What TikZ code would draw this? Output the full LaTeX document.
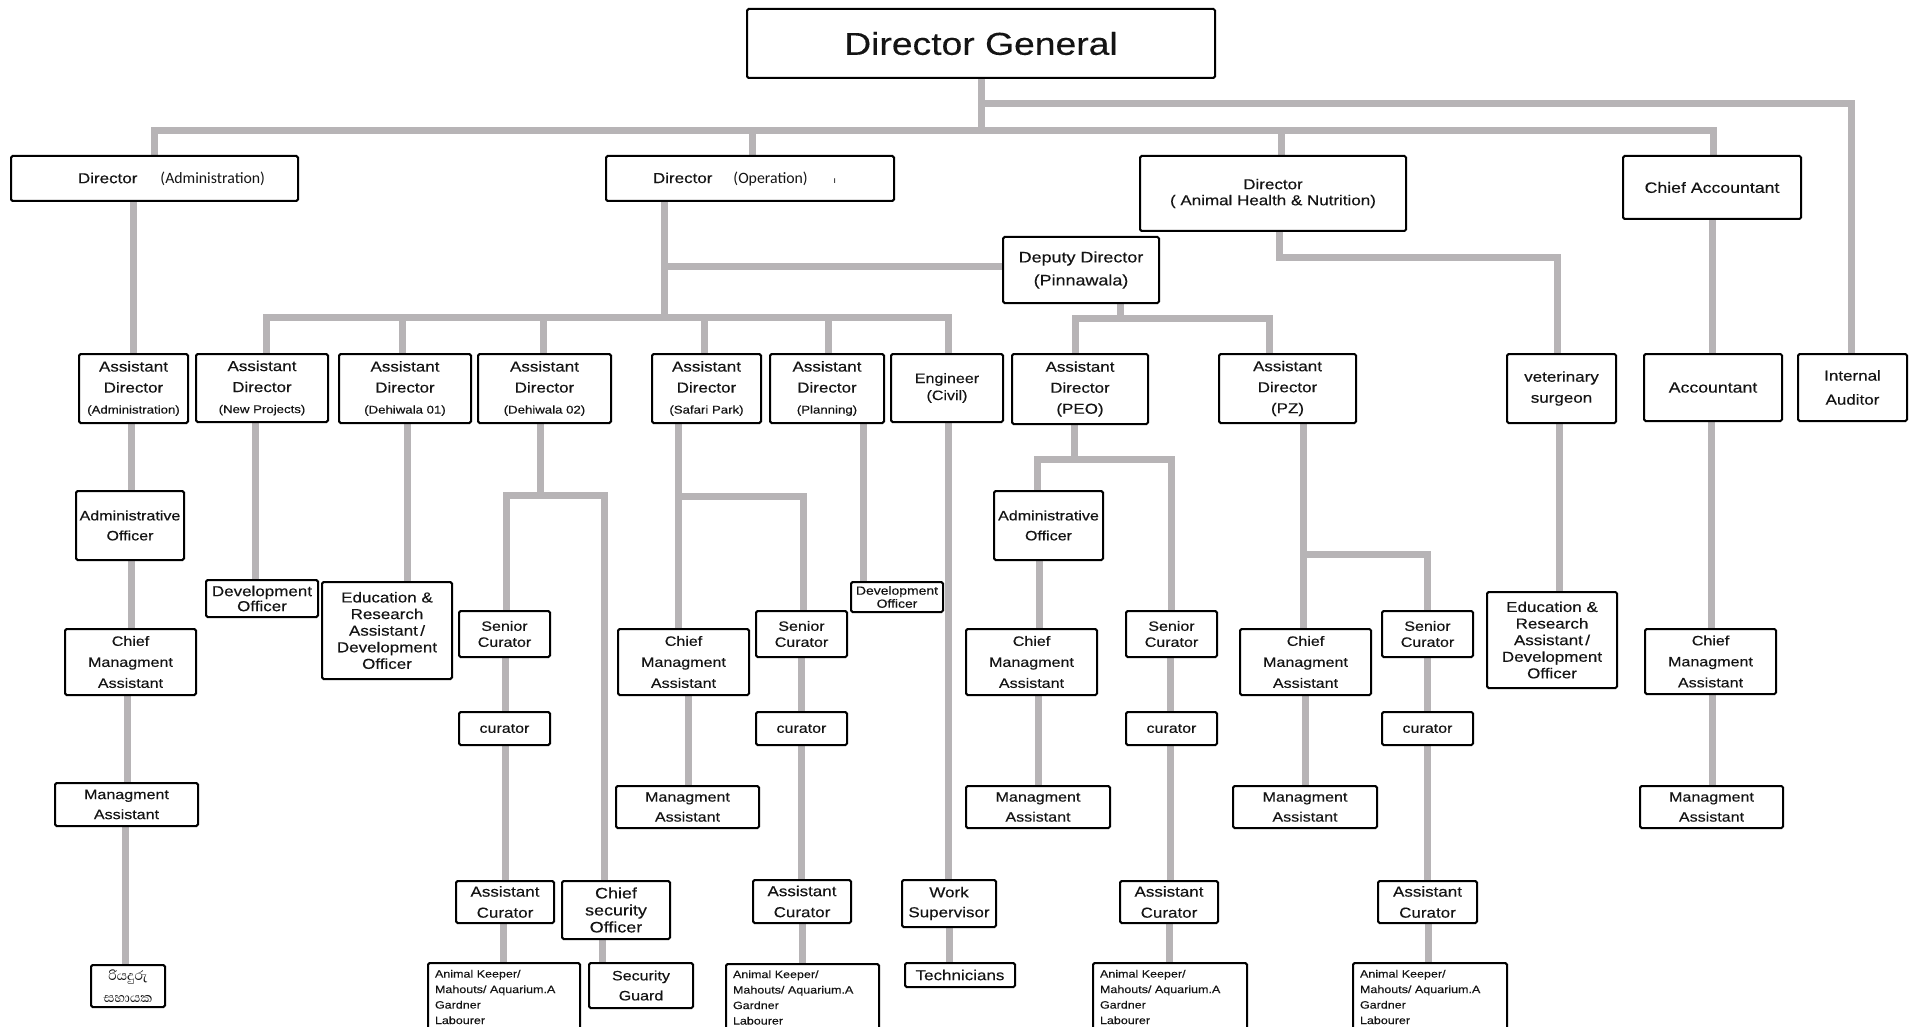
\documentclass[tikz,border=0pt]{standalone}
\usepackage{fontspec}
\setmainfont{Liberation Sans}[FakeStretch=1.18,FakeBold=0.3]
\newfontfamily\calfont{Carlito}
\newfontfamily\sinfont[Script=Sinhala]{Abhaya Libre}
\usetikzlibrary{backgrounds}
\definecolor{lg}{RGB}{183,180,182}
\definecolor{tx}{RGB}{20,20,20}
\newcommand\orgbox[7][]{%
  \pgfmathsetmacro\bw{(#5-#3)*0.5}%
  \pgfmathsetmacro\bh{(#6-#4)*0.5}%
  \node[box,minimum width=\bw pt,minimum height=\bh pt,#1] (#2) at ({(#3+#5)/2},{(#4+#6)/2}) {#7};}
\newcommand\akbox[4]{%
  \pgfmathsetmacro\bw{(#4-#2)*0.5-7}%
  \pgfmathsetmacro\bh{(1031-#3)*0.5}%
  \node[box,text width=\bw pt,inner xsep=3.5pt,minimum height=\bh pt,align=left,
        font=\fontsize{5.3pt}{7.75pt}\selectfont] (#1) at ({(#2+#4)/2},{(#3+1031)/2})
   {Animal Keeper/\\Mahouts/ Aquarium.A\\Gardner\\Labourer};}
\newcommand\sm[1]{{\fontsize{5.6pt}{10.5pt}\selectfont #1}}
\tikzset{
  box/.style={draw=black,line width=1pt,fill=white,rounded corners=0.8pt,inner sep=0pt,
    align=center,text=tx,font=\fontsize{7.2pt}{10.5pt}\selectfont},
  ls/.style={font=\fontsize{7.2pt}{#1pt}\selectfont},
  mg/.style={font=\fontsize{6.8pt}{#1pt}\selectfont},
  conn/.style={draw=lg,line width=3.5pt,line join=miter}
}
\begin{document}
\begin{tikzpicture}[x=0.5pt,y=-0.5pt]
\useasboundingbox (0,0) rectangle (1916,1027);
\clip (0,0) rectangle (1916,1027);
% ---------- top ----------
\orgbox[font=\fontsize{15.8pt}{18pt}\selectfont]{dg}{747}{9}{1215}{78}{Director General}
\orgbox{dadm}{11}{156}{298}{201}{\makebox[143.5pt][l]{\hspace*{33.5pt}Director\hspace{11.5pt}{\calfont\fontsize{7.9pt}{9pt}\selectfont (Administration)}}}
\orgbox{dop}{606}{156}{894}{201}{\makebox[144pt][l]{\hspace*{23.5pt}Director\hspace{10.5pt}{\calfont\fontsize{7.9pt}{9pt}\selectfont (Operation)\hspace{13pt}{\fontsize{5pt}{6pt}\selectfont ı}}}}
\orgbox[ls=8]{dahn}{1140}{156}{1406}{231}{Director\\( Animal Health \& Nutrition)}
\orgbox[font=\fontsize{7.5pt}{9pt}\selectfont]{dca}{1623}{156}{1801}{219}{Chief Accountant}
\orgbox[font=\fontsize{7.6pt}{11.5pt}\selectfont]{ddp}{1003}{237}{1159}{303}{Deputy Director\\(Pinnawala)}
% ---------- assistant director row ----------
\orgbox{adA}{79}{354}{188}{423}{Assistant\\Director\\\sm{(Administration)}}
\orgbox{adNP}{196}{354}{328}{422}{Assistant\\Director\\\sm{(New Projects)}}
\orgbox{adD1}{339}{354}{471}{423}{Assistant\\Director\\\sm{(Dehiwala 01)}}
\orgbox{adD2}{478}{354}{611}{423}{Assistant\\Director\\\sm{(Dehiwala 02)}}
\orgbox{adSP}{652}{354}{761}{423}{Assistant\\Director\\\sm{(Safari Park)}}
\orgbox{adPl}{770}{354}{884}{423}{Assistant\\Director\\\sm{(Planning)}}
\orgbox[mg=8.5]{eng}{891}{354}{1003}{422}{Engineer\\(Civil)}
\orgbox{adPEO}{1012}{354}{1148}{424}{Assistant\\Director\\(PEO)}
\orgbox{adPZ}{1219}{354}{1356}{423}{Assistant\\Director\\(PZ)}
\orgbox{vet}{1507}{354}{1616}{423}{veterinary\\surgeon}
\orgbox[font=\fontsize{7.5pt}{9pt}\selectfont]{acc}{1644}{354}{1782}{421}{Accountant}
\orgbox[ls=12]{ia}{1798}{354}{1907}{421}{Internal\\Auditor}
% ---------- administration column ----------
\orgbox[mg=10]{aoA}{76}{491}{184}{560}{Administrative\\Officer}
\orgbox[mg=10.5]{cmaA}{65}{629}{196}{695}{Chief\\Managment\\Assistant}
\orgbox[mg=10]{maA}{55}{783}{198}{826}{Managment\\Assistant}
\orgbox[font=\sinfont\fontsize{8.5pt}{11pt}\selectfont]{sinh}{91}{965}{165}{1007}{රියදුරු\\සහායක}
% ---------- new projects / dehiwala 01 ----------
\orgbox[ls=7.5]{doNP}{206}{580}{318}{617}{Development\\Officer}
\orgbox[ls=8.3]{edu1}{322}{582}{452}{679}{Education \&\\Research\\Assistant\,/\\Development\\Officer}
% ---------- dehiwala 02 ----------
\orgbox[mg=8]{scD2}{459}{611}{550}{657}{Senior\\Curator}
\orgbox[mg=9]{curD2}{459}{712}{550}{745}{curator}
\orgbox[ls=10.5]{acD2}{456}{881}{554}{923}{Assistant\\Curator}
\akbox{akD2}{428}{963}{580}
\orgbox[font=\fontsize{7.6pt}{8.5pt}\selectfont]{cso}{562}{881}{670}{939}{Chief\\security\\Officer}
\orgbox[mg=10]{sg}{589}{963}{693}{1008}{Security\\Guard}
% ---------- safari park ----------
\orgbox[mg=10.5]{cmaSP}{618}{629}{749}{695}{Chief\\Managment\\Assistant}
\orgbox[mg=10]{maSP}{616}{786}{759}{828}{Managment\\Assistant}
\orgbox[mg=8]{scSP}{756}{611}{847}{657}{Senior\\Curator}
\orgbox[mg=9]{curSP}{756}{712}{847}{745}{curator}
\orgbox[ls=10.5]{acSP}{753}{880}{851}{923}{Assistant\\Curator}
\akbox{akSP}{726}{964}{879}
% ---------- planning / engineer ----------
\orgbox[font=\fontsize{5.9pt}{6.5pt}\selectfont]{doPl}{851}{582}{943}{612}{Development\\Officer}
\orgbox[ls=10]{ws}{902}{880}{996}{927}{Work\\Supervisor}
\orgbox{tech}{905}{963}{1015}{987}{Technicians}
% ---------- PEO ----------
\orgbox[mg=10]{aoPEO}{994}{491}{1103}{560}{Administrative\\Officer}
\orgbox[mg=10.5]{cmaPEO}{966}{629}{1097}{695}{Chief\\Managment\\Assistant}
\orgbox[mg=10]{maPEO}{966}{786}{1110}{828}{Managment\\Assistant}
\orgbox[mg=8]{scPEO}{1126}{611}{1217}{657}{Senior\\Curator}
\orgbox[mg=9]{curPEO}{1126}{712}{1217}{745}{curator}
\orgbox[ls=10.5]{acPEO}{1120}{881}{1218}{923}{Assistant\\Curator}
\akbox{akPEO}{1093}{963}{1247}
% ---------- PZ ----------
\orgbox[mg=10.5]{cmaPZ}{1240}{629}{1371}{695}{Chief\\Managment\\Assistant}
\orgbox[mg=10]{maPZ}{1233}{786}{1377}{828}{Managment\\Assistant}
\orgbox[mg=8]{scPZ}{1382}{611}{1473}{657}{Senior\\Curator}
\orgbox[mg=9]{curPZ}{1382}{712}{1473}{745}{curator}
\orgbox[ls=10.5]{acPZ}{1378}{881}{1477}{923}{Assistant\\Curator}
\akbox{akPZ}{1353}{963}{1507}
% ---------- vet / accounts ----------
\orgbox[ls=8.3]{edu2}{1487}{592}{1617}{688}{Education \&\\Research\\Assistant\,/\\Development\\Officer}
\orgbox[mg=10.5]{cmaAc}{1645}{629}{1776}{694}{Chief\\Managment\\Assistant}
\orgbox[mg=10]{maAc}{1640}{786}{1783}{828}{Managment\\Assistant}
% ---------- connectors ----------
\begin{pgfonlayer}{background}
\fill[white] (0,0) rectangle (1916,1027);
\draw[conn] (dg.south -| 981,0) -- (981,131);
\draw[conn] (981,104) -| (ia.north -| 1851,0);
\draw[conn] (dadm.north -| 154,0) |- (1713,131) -- (dca.north -| 1713,0);
\draw[conn] (752,131) -- (dop.north -| 752,0);
\draw[conn] (1281,131) -- (dahn.north -| 1281,0);
\draw[conn] (dadm.south -| 133,0) -- (adA.north -| 133,0);
\draw[conn] (dop.south -| 664,0) -- (664,317);
\draw[conn] (664,267) -- (ddp.west |- 0,267);
\draw[conn] (adNP.north -| 266,0) |- (948,317) -- (eng.north -| 948,0);
\draw[conn] (402,317) -- (adD1.north -| 402,0);
\draw[conn] (543,317) -- (adD2.north -| 543,0);
\draw[conn] (704,317) -- (adSP.north -| 704,0);
\draw[conn] (828,317) -- (adPl.north -| 828,0);
\draw[conn] (ddp.south -| 1120,0) -- (1120,318);
\draw[conn] (adPEO.north -| 1075,0) |- (1269,318) -- (adPZ.north -| 1269,0);
\draw[conn] (dahn.south -| 1279,0) |- (1557,258) -- (vet.north -| 1557,0);
\draw[conn] (dca.south -| 1712,0) -- (acc.north -| 1712,0);
% administration column
\draw[conn] (adA.south -| 131,0) -- (aoA.north -| 131,0);
\draw[conn] (aoA.south -| 131,0) -- (cmaA.north -| 131,0);
\draw[conn] (cmaA.south -| 127,0) -- (maA.north -| 127,0);
\draw[conn] (maA.south -| 125,0) -- (sinh.north -| 125,0);
\draw[conn] (adNP.south -| 255,0) -- (doNP.north -| 255,0);
\draw[conn] (adD1.south -| 407,0) -- (edu1.north -| 407,0);
% dehiwala 02
\draw[conn] (adD2.south -| 540,0) -- (540,495);
\draw[conn] (scD2.north -| 506,0) |- (604,495) -- (cso.north -| 604,0);
\draw[conn] (scD2.south -| 505,0) -- (curD2.north -| 505,0);
\draw[conn] (curD2.south -| 505,0) -- (acD2.north -| 505,0);
\draw[conn] (acD2.south -| 503,0) -- (akD2.north -| 503,0);
\draw[conn] (cso.south -| 602,0) -- (sg.north -| 602,0);
% safari
\draw[conn] (adSP.south -| 678,0) -- (cmaSP.north -| 678,0);
\draw[conn] (678,496) -| (scSP.north -| 803,0);
\draw[conn] (cmaSP.south -| 688,0) -- (maSP.north -| 688,0);
\draw[conn] (scSP.south -| 801,0) -- (curSP.north -| 801,0);
\draw[conn] (curSP.south -| 801,0) -- (acSP.north -| 801,0);
\draw[conn] (acSP.south -| 802,0) -- (akSP.north -| 802,0);
% planning / engineer
\draw[conn] (adPl.south -| 863,0) -- (doPl.north -| 863,0);
\draw[conn] (eng.south -| 948,0) -- (ws.north -| 948,0);
\draw[conn] (ws.south -| 949,0) -- (tech.north -| 949,0);
% PEO
\draw[conn] (adPEO.south -| 1074,0) -- (1074,459);
\draw[conn] (aoPEO.north -| 1037,0) |- (1171,459) -- (scPEO.north -| 1171,0);
\draw[conn] (aoPEO.south -| 1039,0) -- (cmaPEO.north -| 1039,0);
\draw[conn] (cmaPEO.south -| 1038,0) -- (maPEO.north -| 1038,0);
\draw[conn] (scPEO.south -| 1170,0) -- (curPEO.north -| 1170,0);
\draw[conn] (curPEO.south -| 1170,0) -- (acPEO.north -| 1170,0);
\draw[conn] (acPEO.south -| 1169,0) -- (akPEO.north -| 1169,0);
% PZ
\draw[conn] (adPZ.south -| 1303,0) -- (cmaPZ.north -| 1303,0);
\draw[conn] (1303,554) -| (scPZ.north -| 1427,0);
\draw[conn] (cmaPZ.south -| 1305,0) -- (maPZ.north -| 1305,0);
\draw[conn] (scPZ.south -| 1427,0) -- (curPZ.north -| 1427,0);
\draw[conn] (curPZ.south -| 1427,0) -- (acPZ.north -| 1427,0);
\draw[conn] (acPZ.south -| 1428,0) -- (akPZ.north -| 1428,0);
% vet / accounts
\draw[conn] (vet.south -| 1559,0) -- (edu2.north -| 1559,0);
\draw[conn] (acc.south -| 1711,0) -- (cmaAc.north -| 1711,0);
\draw[conn] (cmaAc.south -| 1712,0) -- (maAc.north -| 1712,0);
\end{pgfonlayer}
\end{tikzpicture}
\end{document}
